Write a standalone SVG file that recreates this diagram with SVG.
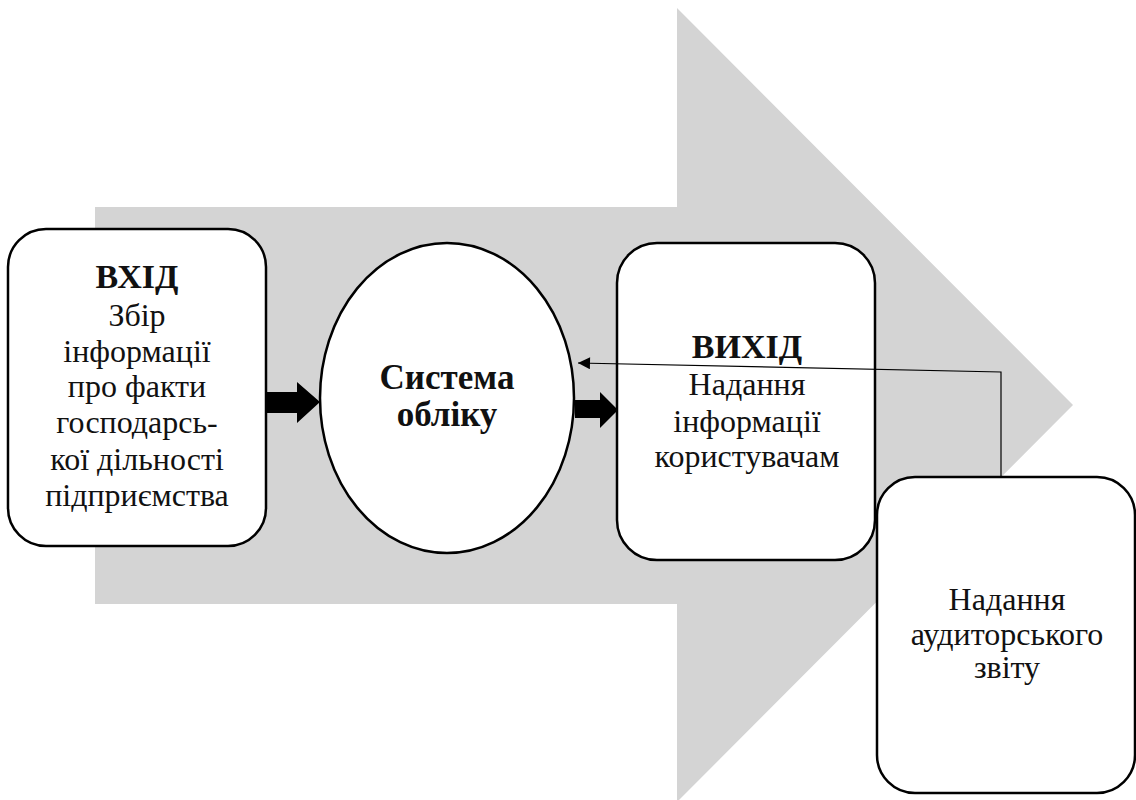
<svg xmlns="http://www.w3.org/2000/svg" width="1136" height="800" viewBox="0 0 1136 800">
<defs>
<style>
.box{fill:#fff;stroke:#000;stroke-width:2.5}
text{font-family:'Liberation Serif','Times New Roman',serif;font-size:32px;text-anchor:middle;fill:#111}
.b{font-weight:bold;font-size:34px}
.c{font-weight:bold;font-size:35px}
.thin{fill:none;stroke:#000;stroke-width:1.2}
</style>
<marker id="ah" viewBox="0 0 10 10" refX="10" refY="5" markerWidth="16" markerHeight="12" markerUnits="userSpaceOnUse" orient="auto">
<path d="M0,0 L10,5 L0,10 Z" fill="#000"/>
</marker>
</defs>
<rect width="1136" height="800" fill="#fff"/>
<polygon id="bigArrow" points="95,207 677,207 677,8 1073,405 677,802 677,604 95,604" fill="#d4d4d4"/>
<g id="input">
<rect class="box" x="8" y="229" width="258" height="317" rx="38" ry="38"/>
<text class="b" x="137" y="288">ВХІД</text>
<text x="137" y="326">Збір</text>
<text x="137" y="362">інформації</text>
<text x="137" y="397">про факти</text>
<text x="137" y="433">господарсь-</text>
<text x="137" y="470">кої дільності</text>
<text x="137" y="506">підприємства</text>
</g>
<g id="system">
<ellipse class="box" cx="447" cy="398" rx="127" ry="155"/>
<text class="c" x="447" y="389">Система</text>
<text class="c" x="447" y="426">обліку</text>
</g>
<g id="output">
<rect class="box" x="617" y="243" width="258" height="317" rx="40" ry="40"/>
<text class="b" x="747" y="358">ВИХІД</text>
<text x="747" y="395">Надання</text>
<text x="747" y="432">інформації</text>
<text x="747" y="467">користувачам</text>
</g>
<g id="audit">
<rect class="box" x="877" y="477" width="258" height="316" rx="38" ry="38"/>
<text x="1007" y="610">Надання</text>
<text x="1007" y="645">аудиторського</text>
<text x="1007" y="678">звіту</text>
</g>
<g id="connectors">
<polygon points="266,392 297,392 297,382 320,402 297,423 297,413 266,413" fill="#000"/>
<polygon points="575,400 600,400 600,392 618,410 600,428 600,418 575,418" fill="#000"/>
<polyline class="thin" points="1001,477 1001,372 578,363" marker-end="url(#ah)"/>
</g>
</svg>
